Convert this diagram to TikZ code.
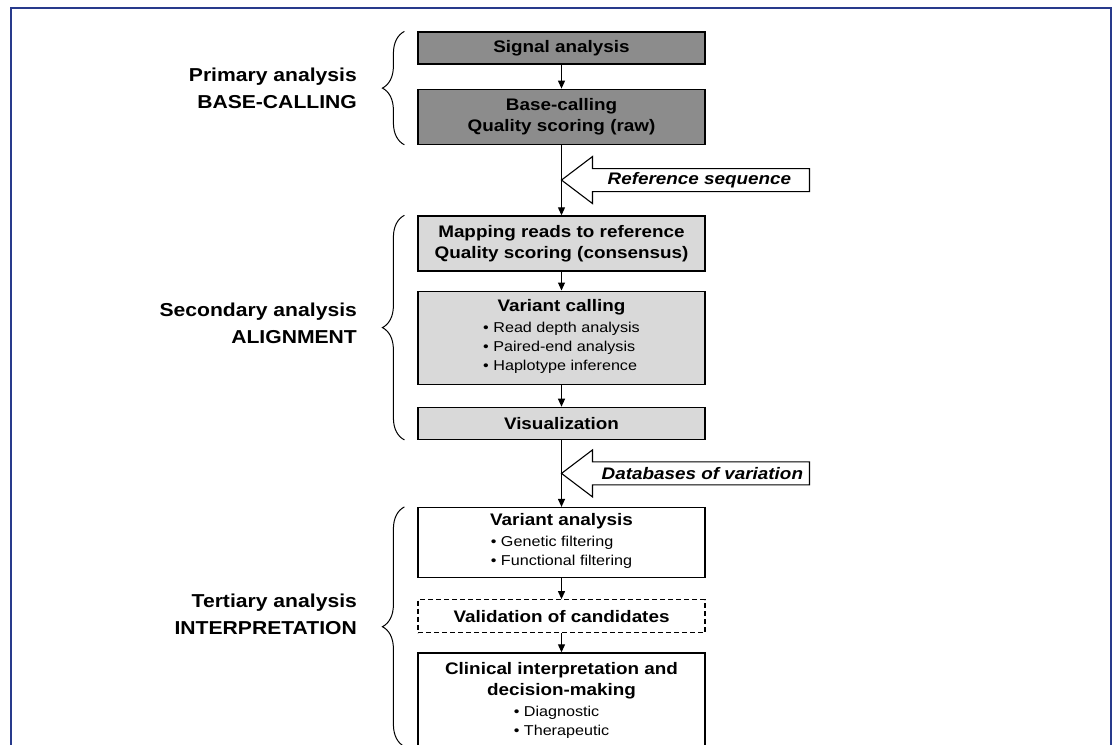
\documentclass[tikz,border=0pt]{standalone}
\usepackage{fontspec}
\setmainfont[FakeStretch=1.13]{Liberation Sans}
\usepackage{tikz}
\usetikzlibrary{arrows.meta,positioning,decorations.pathreplacing}

\definecolor{primgray}{gray}{0.55}
\definecolor{secgray}{gray}{0.85}
\definecolor{frameblue}{RGB}{40,58,140}

\newcommand{\titlefont}{\fontsize{16.7}{21}\selectfont\bfseries}
\newcommand{\bulletlist}[1]{{\fontsize{14.3}{19}\selectfont\mdseries
  \begin{tabular}[t]{@{}l@{}}#1\end{tabular}}}

\begin{document}
\begin{tikzpicture}[x=1pt, y=-1pt]
		\tikzstyle{stage} = [rectangle, minimum width=287pt, align=center, draw=black, 
		line width=1.2pt, font=\titlefont]
		\tikzstyle{primary} = [stage, fill=primgray]
		\tikzstyle{secondary} = [stage, fill=secgray]
		\tikzstyle{tertiary} = [stage, fill=white]
		\tikzstyle{arrow} = [line width=1.1pt, -{Triangle[length=8pt, width=7pt]}]
		\tikzstyle{hollow} = [draw=black, line width=1.1pt, fill=white]
		\tikzstyle{inputtext} = [inner sep=0pt, font=\fontsize{16.7}{21}\selectfont\bfseries\itshape]
		\tikzstyle{brace} = [line width=1pt, decorate, decoration={brace, amplitude=22pt}]
		\tikzstyle{sidelabel} = [align=right, inner sep=0pt, font=\fontsize{18.7}{27}\selectfont\bfseries]
		\useasboundingbox (0,0) rectangle (1113,744);
		\draw [frameblue, line width=1.4pt] (11,8) rectangle (1111,780);
		% boxes
		\node (signal) [primary, minimum height=32pt] at (561.5,48) {Signal analysis};
		\node (basecall) [primary, minimum height=55pt, below=24pt of signal] {Base-calling\\Quality scoring (raw)};
		\node (mapping) [secondary, minimum height=55pt, below=70.5pt of basecall] {Mapping reads to reference\\Quality scoring (consensus)};
		\node (varcall) [secondary, minimum height=93pt, below=19pt of mapping] {Variant calling\\
			\bulletlist{\textbullet\ Read depth analysis\\ \textbullet\ Paired-end analysis\\ \textbullet\ Haplotype inference}};
		\node (visual) [secondary, minimum height=32pt, below=22pt of varcall] {Visualization};
		\node (varanalysis) [tertiary, minimum height=70pt, below=67pt of visual] {Variant analysis\\
			\bulletlist{\textbullet\ Genetic filtering\\ \textbullet\ Functional filtering}};
		\node (validation) [tertiary, dashed, dash pattern=on 5pt off 3pt, minimum height=33pt, below=21pt of varanalysis] {Validation of candidates};
		\node (clinical) [tertiary, minimum height=97pt, below=19pt of validation] {Clinical interpretation and\\decision-making\\
			\bulletlist{\textbullet\ Diagnostic\\ \textbullet\ Therapeutic}};
		% inputs
		\path (basecall) -- coordinate[midway] (reftip) (mapping);
		\path (visual) -- coordinate[midway] (dbtip) (varanalysis);
		\draw [hollow] (reftip) -- ++(31,-23.5) -- ++(0,12) -- ++(217,0) -- ++(0,23) -- ++(-217,0) -- ++(0,12) -- cycle;
		\draw [hollow] (dbtip) -- ++(31,-23.5) -- ++(0,12) -- ++(217,0) -- ++(0,23) -- ++(-217,0) -- ++(0,12) -- cycle;
		\node (refseq) [inputtext, right=46pt of reftip] {Reference sequence};
		\node (databases) [inputtext, right=40pt of dbtip] {Databases of variation};
		% flow
		\draw [arrow] (signal) -- (basecall);
		\draw [arrow] (basecall) -- (mapping);
		\draw [arrow] (mapping) -- (varcall);
		\draw [arrow] (varcall) -- (visual);
		\draw [arrow] (visual) -- (varanalysis);
		\draw [arrow] (varanalysis) -- (validation);
		\draw [arrow] (validation) -- (clinical);
		% braces
		\draw [brace] ([xshift=-13pt]basecall.south west) -- node[sidelabel, left=47pt] (primlabel) {Primary analysis\\BASE-CALLING} ([xshift=-13pt]signal.north west);
		\draw [brace] ([xshift=-13pt]visual.south west) -- node[sidelabel, left=47pt, yshift=4pt] (seclabel) {Secondary analysis\\ALIGNMENT} ([xshift=-13pt]mapping.north west);
		\draw [brace] ([xshift=-13pt, yshift=4pt]clinical.south west) -- node[sidelabel, left=47pt, yshift=12pt] (terlabel) {Tertiary analysis\\INTERPRETATION} ([xshift=-13pt]varanalysis.north west);
\end{tikzpicture}
\end{document}
